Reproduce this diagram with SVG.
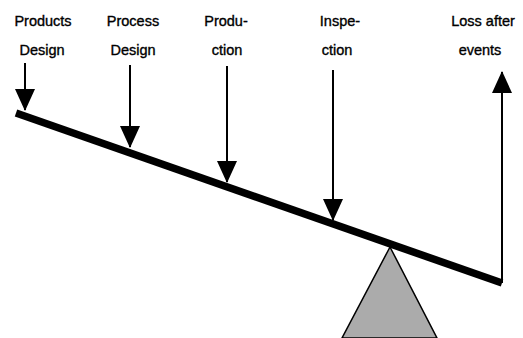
<svg xmlns="http://www.w3.org/2000/svg" width="523" height="338" viewBox="0 0 523 338">
<style>
.lbl{font-family:"Liberation Sans","Arial",sans-serif;font-size:14.5px;fill:#000;stroke:#000;stroke-width:0.35;text-anchor:middle}
.arr{stroke:#000;stroke-width:2;fill:none;marker-end:url(#ah)}
</style>
<defs>
<marker id="ah" markerUnits="userSpaceOnUse" markerWidth="22" markerHeight="20" refX="21" refY="10" orient="auto" viewBox="0 0 22 20">
<path d="M0,0 L22,10 L0,20 Z" fill="#000"/>
</marker>
</defs>
<rect width="523" height="338" fill="#fff"/>
<g id="fulcrum">
<polygon points="390,247 342,338 437,338" fill="#ababab" stroke="#000" stroke-width="1.5"/>
</g>
<g id="beam">
<line x1="16" y1="113" x2="502" y2="283" stroke="#000" stroke-width="7.5"/>
</g>
<g id="products-design">
<text class="lbl" x="43" y="26">Products</text>
<text class="lbl" x="42" y="55">Design</text>
</g>
<g id="process-design">
<text class="lbl" x="133" y="26">Process</text>
<text class="lbl" x="133" y="55">Design</text>
</g>
<g id="production">
<text class="lbl" x="226" y="26">Produ-</text>
<text class="lbl" x="227" y="55">ction</text>
</g>
<g id="inspection">
<text class="lbl" x="340" y="26">Inspe-</text>
<text class="lbl" x="337" y="55">ction</text>
</g>
<g id="loss-after-events">
<text class="lbl" x="483" y="26">Loss after</text>
<text class="lbl" x="480" y="55">events</text>
</g>
<g id="connectors">
<line class="arr" x1="25" y1="63" x2="25" y2="110"/>
<line class="arr" x1="130" y1="65" x2="130" y2="147"/>
<line class="arr" x1="227" y1="66" x2="227" y2="182"/>
<line class="arr" x1="333" y1="70" x2="333" y2="220"/>
<line class="arr" x1="502" y1="283" x2="502" y2="72"/>
</g>
</svg>
